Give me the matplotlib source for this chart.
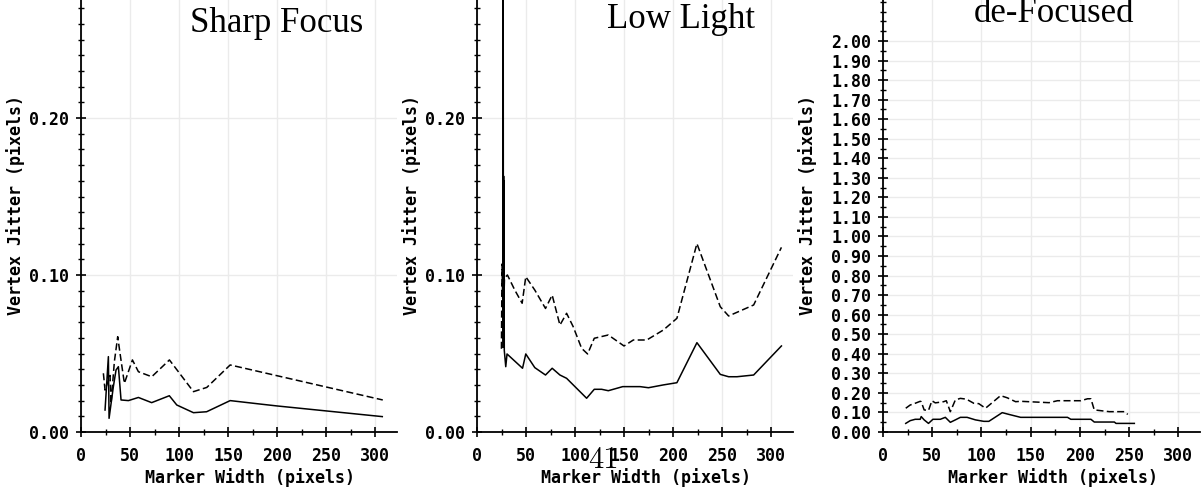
import matplotlib
matplotlib.use("Agg")
import matplotlib.pyplot as plt
from matplotlib.ticker import MultipleLocator, FormatStrFormatter

W = 1202
H = 487

# Sharp Focus
sharp_x_solid = [24.5, 27.9, 28.6, 33.0, 35.7, 38.1, 40.8, 48.3, 58.5, 72.0, 90.0, 97.6,
                 114.6, 128.0, 152.0, 182.6, 199.7, 307.0]
sharp_y_solid = [0.014, 0.048, 0.0087, 0.029, 0.0395, 0.0416, 0.0204, 0.020, 0.022, 0.0187,
                 0.0231, 0.0172, 0.0123, 0.0129, 0.020, 0.0178, 0.0166, 0.0098]
sharp_x_dash = [22.8, 24.5, 29.6, 30.6, 34.0, 37.4, 39.8, 44.2, 52.4, 58.5, 72.1, 90.1,
                114.6, 128.2, 152.0, 307.5]
sharp_y_dash = [0.0374, 0.0267, 0.036, 0.018, 0.0448, 0.0607, 0.050, 0.031, 0.0459, 0.0384,
                0.0352, 0.0459, 0.0257, 0.0284, 0.0427, 0.0204]

# Low Light
low_x_solid = [26.3, 26.6, 26.9, 27.1, 27.3, 27.5, 27.8, 29.3, 30.6, 46.4, 49.7, 58.9, 69.8,
               76.6, 84.5, 91.3, 111.7, 119.5, 127.0, 133.8, 148.5, 166.2, 174.7, 190.0,
               203.7, 224.1, 247.9, 256.4, 264.9, 281.9, 310.2]
low_y_solid = [0.054, 0.40, 0.060, 0.163, 0.055, 0.160, 0.052, 0.0416, 0.0497, 0.0406,
               0.0497, 0.041, 0.0363, 0.0406, 0.0363, 0.0342, 0.0215, 0.0272, 0.0272,
               0.0263, 0.0289, 0.0289, 0.0282, 0.030, 0.0314, 0.0569, 0.0367, 0.0352,
               0.0352, 0.0363, 0.0548]
low_x_dash = [24.9, 25.5, 26.2, 26.8, 27.4, 28.0, 31.0, 38.5, 46.0, 49.7, 58.9, 69.8, 76.6,
              84.5, 91.3, 98.0, 106.6, 112.7, 119.5, 133.8, 149.8, 159.3, 173.0, 190.0,
              203.7, 224.1, 247.9, 256.4, 281.9, 310.2]
low_y_dash = [0.053, 0.107, 0.085, 0.105, 0.084, 0.098, 0.100, 0.0904, 0.082, 0.0989,
              0.0904, 0.0787, 0.0872, 0.0681, 0.0756, 0.0671, 0.0533, 0.0497, 0.0597,
              0.0618, 0.0548, 0.0586, 0.0586, 0.065, 0.0724, 0.120, 0.0798, 0.0739,
              0.0809, 0.1176]

# de-Focused
defoc_x_solid = [23.1, 27.6, 32.7, 37.8, 38.8, 41.8, 46.2, 50.7, 58.2, 63.3, 68.4, 73.5,
                 78.6, 85.4, 93.9, 102.4, 107.5, 121.1, 127.9, 139.8, 187.4, 190.8, 211.2,
                 214.6, 235.0, 236.7, 255.3]
defoc_y_solid = [0.044, 0.058, 0.065, 0.065, 0.079, 0.062, 0.044, 0.065, 0.065, 0.075,
                 0.0495, 0.062, 0.075, 0.075, 0.062, 0.0545, 0.0545, 0.099, 0.090, 0.075,
                 0.075, 0.065, 0.065, 0.051, 0.051, 0.044, 0.044]
defoc_x_dash = [23.1, 27.6, 32.7, 37.8, 38.8, 41.8, 46.2, 49.7, 53.1, 61.6, 64.3, 68.4,
                73.5, 78.6, 84.7, 92.2, 97.3, 104.1, 110.2, 119.4, 126.2, 134.7, 139.8,
                168.7, 177.2, 201.0, 207.8, 211.2, 214.6, 229.9, 245.2, 248.6]
defoc_y_dash = [0.1215, 0.138, 0.147, 0.157, 0.155, 0.113, 0.110, 0.160, 0.149, 0.155,
                0.160, 0.104, 0.164, 0.172, 0.168, 0.147, 0.145, 0.1215, 0.147, 0.186,
                0.175, 0.155, 0.157, 0.150, 0.160, 0.160, 0.170, 0.170, 0.113, 0.104,
                0.104, 0.090]

titles = ["Sharp Focus", "Low Light", "de-Focused"]
x_label = "Marker Width (pixels)"
y_label = "Vertex Jitter (pixels)"
page_number = "41"

MONO = {"family": "DejaVu Sans Mono", "weight": "bold", "size": 12}

fig = plt.figure(figsize=(W / 100, H / 100), dpi=100)


def style_labels(labels):
  for lab in labels:
    lab.set_fontfamily(MONO["family"])
    lab.set_fontweight(MONO["weight"])
    lab.set_fontsize(MONO["size"])


def make_axes(left_px, width_px, ymax, ymajor, yminor, ylab_x):
  ax = fig.add_axes([left_px / W, 55 / H, width_px / W, 432 / H])
  ax.set_xlim(0, 322)
  ax.set_ylim(0, ymax)
  ax.xaxis.set_major_locator(MultipleLocator(50))
  ax.xaxis.set_minor_locator(MultipleLocator(25))
  ax.yaxis.set_major_locator(MultipleLocator(ymajor))
  ax.yaxis.set_minor_locator(MultipleLocator(yminor))
  ax.yaxis.set_major_formatter(FormatStrFormatter("%.2f"))
  ax.grid(True, which="major", color="#ebebeb", lw=1)
  ax.set_axisbelow(True)
  for s in ["top", "right"]:
    ax.spines[s].set_visible(False)
  for s in ["left", "bottom"]:
    ax.spines[s].set_linewidth(1.3)
  ax.tick_params(which="major", direction="inout", length=7, width=1.2)
  ax.tick_params(which="minor", direction="inout", length=4, width=1.0)
  ax.tick_params(axis="x", which="major", pad=7)
  ax.tick_params(axis="y", which="major", pad=5)
  style_labels(ax.get_xticklabels() + ax.get_yticklabels())
  ax.set_xlabel(x_label, fontdict=MONO)
  ax.xaxis.set_label_coords(0.535, -0.106)
  ax.xaxis.label.set_va("center")
  ax.set_ylabel(y_label, fontdict=MONO)
  ax.yaxis.set_label_coords(ylab_x, 0.525)
  ax.yaxis.label.set_va("center")
  return ax


def draw(ax, xs, ys, xd, yd):
  ax.plot(xs, ys, color="black", lw=1.1)
  ax.plot(xd, yd, color="black", lw=1.1, linestyle=(0, (4.6, 2.2)))


ax1 = make_axes(81, 316, 432 / 1570, 0.1, 0.01, -0.206)
draw(ax1, sharp_x_solid, sharp_y_solid, sharp_x_dash, sharp_y_dash)

ax2 = make_axes(477, 316, 432 / 1570, 0.1, 0.01, -0.207)
draw(ax2, low_x_solid, low_y_solid, low_x_dash, low_y_dash)

ax3 = make_axes(883, 317, 432 / 195.5, 0.1, 0.05, -0.238)
draw(ax3, defoc_x_solid, defoc_y_solid, defoc_x_dash, defoc_y_dash)
ax3.set_yticks([i / 10 for i in range(21)])
ax3.set_ylim(0, 432 / 195.5)
ax3.yaxis.set_major_formatter(FormatStrFormatter("%.2f"))
style_labels(ax3.get_yticklabels())

# Titles (serif, as pasted into the page)
fig.text(277 / W, 455 / H, titles[0], family="Liberation Serif", size=25, ha="center", va="baseline")
fig.text(681 / W, 459 / H, titles[1], family="Liberation Serif", size=25, ha="center", va="baseline")
fig.text(1054 / W, 465 / H, titles[2], family="Liberation Serif", size=25, ha="center", va="baseline")

fig.text(603 / W, 19 / H, page_number, family="cmr10", size=22, ha="center", va="baseline")

fig.savefig("out.png", dpi=100)
